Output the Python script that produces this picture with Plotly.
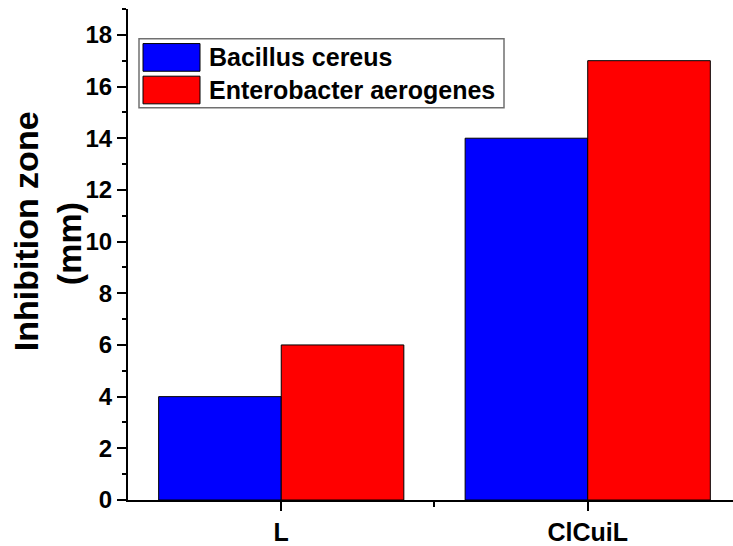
import plotly.graph_objects as go

categories = ["L", "ClCuiL"]
series_names = ["Bacillus cereus", "Enterobacter aerogenes"]
bacillus = [4, 14]
enterobacter = [6, 17]
y_ticks = [0, 2, 4, 6, 8, 10, 12, 14, 16, 18]
colors = ["#0000FF", "#FF0000"]

W, H = 733, 546
ML, MR, MT, MB = 128, 0, 9, 40
PW, PH = W - ML - MR, H - MT - MB

def px(x):
    return (x - ML) / PW

def py(y):
    return (H - MB - y) / PH

xs = list(range(len(categories)))
font_family = "Arial, 'Liberation Sans', sans-serif"

fig = go.Figure()
for name, vals, col in zip(series_names, [bacillus, enterobacter], colors):
    fig.add_trace(go.Bar(x=xs, y=vals, name=name, marker=dict(color=col, line=dict(color="black", width=1)),
                         showlegend=False))

fig.update_layout(
    width=W, height=H,
    margin=dict(l=ML, r=MR, t=MT, b=MB, pad=0),
    paper_bgcolor="white", plot_bgcolor="white",
    barmode="group", bargap=0.2, bargroupgap=0,
    font=dict(family=font_family, color="black", size=22, weight="bold"),
    xaxis=dict(range=[-0.5, 1.474], tickvals=xs, ticktext=categories,
               showline=True, linecolor="black", linewidth=2, showgrid=False, zeroline=False,
               ticks="outside", ticklen=9, tickwidth=2, tickcolor="black",
               tickfont=dict(size=25, family=font_family, weight="bold"),
               minor=dict(tickvals=[0.5], ticks="outside", ticklen=5, tickwidth=2, tickcolor="black")),
    yaxis=dict(range=[0, 19], tickvals=y_ticks,
               showline=True, linecolor="black", linewidth=2, showgrid=False, zeroline=False,
               ticks="outside", ticklen=9, tickwidth=2, tickcolor="black",
               tickfont=dict(size=24, family=font_family, weight="bold"),
               minor=dict(dtick=1, tick0=1, ticks="outside", ticklen=4, tickwidth=2, tickcolor="black")),
)

# Y axis title (two lines)
fig.add_annotation(text="Inhibition zone", xref="paper", yref="paper", x=px(26), y=py(234),
                   textangle=-90, showarrow=False, xanchor="center", yanchor="middle",
                   font=dict(size=34, family=font_family, weight="bold", color="black"))
fig.add_annotation(text="(mm)", xref="paper", yref="paper", x=px(69), y=py(247),
                   textangle=-90, showarrow=False, xanchor="center", yanchor="middle",
                   font=dict(size=34, family=font_family, weight="bold", color="black"))

# Custom legend
fig.add_shape(type="rect", xref="paper", yref="paper", x0=px(139), x1=px(504), y0=py(109), y1=py(39),
              line=dict(color="#707070", width=1.5), fillcolor="white", layer="above")
sw = [(44, 72), (77, 105)]
for (y0, y1), name, col in zip(sw, series_names, colors):
    fig.add_shape(type="rect", xref="paper", yref="paper", x0=px(143), x1=px(200), y0=py(y1), y1=py(y0),
                  line=dict(color="black", width=1), fillcolor=col, layer="above")
    fig.add_annotation(text=name, xref="paper", yref="paper", x=px(207), y=py((y0 + y1) / 2),
                       showarrow=False, xanchor="left", yanchor="middle",
                       font=dict(size=25, family=font_family, weight="bold", color="black"))

fig.write_html("out.html", config={"displayModeBar": False},
               post_script="document.body.style.margin='0';document.body.style.padding='0';")
